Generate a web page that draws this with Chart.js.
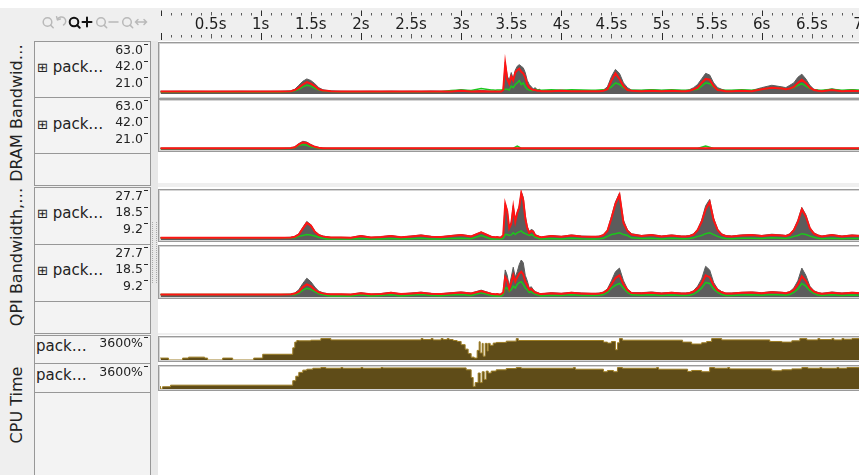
<!DOCTYPE html>
<html><head><meta charset="utf-8">
<script src="https://cdn.jsdelivr.net/npm/chart.js@4.4.1/dist/chart.umd.min.js"></script>
<style>
html,body{margin:0;padding:0;overflow:hidden}
body{width:859px;height:475px;position:relative;background:#efefef;font-family:'DejaVu Sans',sans-serif;color:#222}
.a{position:absolute}
#topStrip{left:0;top:0;width:859px;height:8px;background:#fff}
.lane{left:158px;width:701px;background:#fff}
.strip{left:151px;width:7px;top:41px;height:434px;background:#e8e8e8}
.cell{left:34px;width:117px;box-sizing:border-box;border:1px solid #979797;background:#f3f3f3}
.plot{left:158px;width:720px;box-sizing:border-box;background:#fff;border:1px solid #9a9a9a;box-shadow:inset 0 0 0 1px #d4d4d4}
.group{left:17px;font-size:16px;line-height:18px;white-space:nowrap;transform:translate(-50%,-50%) rotate(-90deg)}
.rowlab{left:37px;font-size:15px;line-height:18px;white-space:nowrap}
.rowlab.cpu{left:36px}
.exp{font-size:13px}
.split{left:152px;top:222px;width:3px;height:61px;border-left:1px dotted #a8a8a8;border-right:1px dotted #a8a8a8}
canvas{position:absolute}
</style></head>
<body>
<div id="topStrip" class="a"></div>
<div class="a lane" style="top:41px;height:142px"></div>
<div class="a lane" style="top:187px;height:146px"></div>
<div class="a lane" style="top:335px;height:140px"></div>
<div class="a strip"></div>
<div class="a split"></div>

<!-- zoom toolbar -->
<svg class="a" style="left:38px;top:14px" width="112" height="18" viewBox="0 0 112 18">
  <g fill="none" stroke="#b9b9b9" stroke-width="1.5" stroke-linecap="round">
    <circle cx="9.5" cy="8" r="4.3"/><path d="M12.6 11.1 L15.2 13.7"/>
    <path d="M25.5 11 A4.3 4.3 0 1 0 19.5 5.5"/><path d="M18.6 2.8 L19.5 5.8 L22.4 5"/>
    <circle cx="63" cy="8" r="4.3"/><path d="M66.1 11.1 L68.7 13.7"/><path d="M71 8 H80"/>
    <circle cx="89" cy="8" r="4.3"/><path d="M92.1 11.1 L94.7 13.7"/>
    <path d="M97.5 8 H108.5 M100 5.5 L97.5 8 L100 10.5 M106 5.5 L108.5 8 L106 10.5"/>
  </g>
  <g fill="none" stroke="#111" stroke-width="2" stroke-linecap="round">
    <circle cx="36" cy="8" r="4.3"/><path d="M39.1 11.1 L41.7 13.7"/>
    <path d="M44.5 8 H53.5 M49 3.5 V12.5"/>
  </g>
</svg>

<div class="a group" style="top:113px">DRAM Bandwid…</div>
<div class="a group" style="top:257px">QPI Bandwidth,…</div>
<div class="a group" style="top:405px">CPU Time</div>

<div class="a cell" style="top:41px;height:57px"></div>
<div class="a cell" style="top:97px;height:57px"></div>
<div class="a cell" style="top:153px;height:33px"></div>
<div class="a cell" style="top:187px;height:58px"></div>
<div class="a cell" style="top:244px;height:58px"></div>
<div class="a cell" style="top:301px;height:33px"></div>
<div class="a cell" style="top:335px;height:29px"></div>
<div class="a cell" style="top:363px;height:30px"></div>
<div class="a cell" style="top:392px;height:90px"></div>

<div class="a rowlab" style="top:58px"><span class="exp">⊞</span> pack…</div>
<div class="a rowlab" style="top:115px"><span class="exp">⊞</span> pack…</div>
<div class="a rowlab" style="top:204px"><span class="exp">⊞</span> pack…</div>
<div class="a rowlab" style="top:261px"><span class="exp">⊞</span> pack…</div>
<div class="a rowlab cpu" style="top:337px">pack…</div>
<div class="a rowlab cpu" style="top:366px">pack…</div>

<div class="a plot" style="top:42px;height:57px"></div>
<div class="a plot" style="top:99px;height:53px"></div>
<div class="a plot" style="top:189px;height:53px"></div>
<div class="a plot" style="top:245px;height:54px"></div>
<div class="a plot" style="top:336px;height:26px"></div>
<div class="a plot" style="top:365px;height:26px"></div>

<canvas id="ruler" width="720" height="42" style="left:158px;top:0px"></canvas>
<canvas id="dram1" width="844" height="70" style="left:34px;top:34px"></canvas>
<canvas id="dram2" width="844" height="70" style="left:34px;top:90px"></canvas>
<canvas id="qpi1" width="844" height="70" style="left:34px;top:180px"></canvas>
<canvas id="qpi2" width="844" height="70" style="left:34px;top:237px"></canvas>
<canvas id="cpu1" width="844" height="43" style="left:34px;top:327px"></canvas>
<canvas id="cpu2" width="844" height="43" style="left:34px;top:356px"></canvas>

<script>
// ---- time axis (seconds) ----
const X_MIN = -0.025, X_MAX = 7.16;

// ---- tick labels ----
const dramTicks = [21, 42, 63];
const qpiTicks = [9.2, 18.5, 27.7];
const cpuTicks = [3600];

// ---- bandwidth sample times (s) ----
const T = [0,0.1,0.2,0.3,0.4,0.5,0.6,0.7,0.8,0.9,1.0,1.1,1.2,1.3,
 1.34,1.38,1.42,1.46,1.5,1.54,1.58,1.62,1.66,1.7,
 1.8,1.9,2.0,2.1,2.2,2.3,2.4,2.5,2.6,2.7,2.8,2.9,3.0,3.1,3.2,3.3,
 3.32,3.34,3.36,3.38,3.4,3.42,3.44,3.46,3.48,3.5,3.52,3.54,3.56,3.58,3.6,3.62,3.64,3.66,3.68,3.7,3.72,3.74,3.76,3.78,3.8,
 3.9,4.0,4.1,4.2,4.3,
 4.34,4.38,4.42,4.46,4.5,4.54,4.58,4.62,4.66,4.7,
 4.8,4.9,5.0,5.1,5.2,
 5.24,5.28,5.32,5.36,5.4,5.44,5.48,5.52,5.56,5.6,5.64,
 5.7,5.8,5.9,6.0,6.1,6.2,
 6.24,6.28,6.32,6.36,6.4,6.44,6.48,6.52,6.56,6.6,
 6.7,6.8,6.9,7.0,7.1,7.2];

// ---- DRAM bandwidth, package 1 (GB/s) ----
const dram1Total = [3.5,3.5,3.6,3.5,3.5,3.4,3.5,3.5,3.6,3.5,3.5,3.5,3.6,4,
 6,11,16,19,17,13,8,5.5,4.5,4,
 3.6,3.5,3.5,3.6,3.5,3.7,3.5,3.6,3.5,3.8,3.6,3.5,5.5,3.8,4.5,3.6,
 3.6,3.5,3.6,3.5,3.8,6,40,23,17,27,19,30,35,37,35,33,27,17,12,9,6.5,8,5,6,4,
 4.5,5,4,4.5,4,
 4,4.5,5,9,22,31,26,14,8,5,
 4.5,5.5,4.5,5,4.5,
 4.5,5.5,8,12,19,26,24,14,8,6,4.5,
 4.5,5,4.5,8,11,9,
 8,11,14,21,25,19,11,6,5,4,
 6.5,4,5.5,4,4,4];
const dram1Red = [3,3,3,3,3,3,3,3,3,3,3,3,3,3.5,
 5,8,12,15,13,10,6,4.5,4,3.5,
 3,3,3,3,3,3,3,3,3,3.2,3,3,4,3.2,3.5,3,
 3,3,3,3,3.2,5,38.5,19,13,22,17,27,30,32,28,26,21,12,8,6,5,5,4,4,3.5,
 3.5,4,3.5,3.5,3.5,
 3.5,3.5,4,6,17,26,19,10,5,4,
 3.5,4,3.5,4,3.5,
 3.5,4,6,8,14,19,18,10,5,4.5,3.5,
 3.5,4,3.5,6,8,7,
 6,7,9,14,18,14,8,5,4,3.5,
 5,3.5,4,3.5,3.5,3.5];
const dram1Green = [2.5,2.5,2.5,2.5,2.5,2.5,2.5,2.5,2.5,2.5,2.5,2.5,2.5,3,
 4,6,9,11,10,7,5,4,3.5,3,
 2.8,2.8,2.8,2.8,2.8,2.8,2.8,2.8,2.8,2.8,2.8,4.5,5,4.5,7,5,
 5,4.8,5,5,5,5.5,6,6,5,10,8,12,14,17,12,14,9,6,5,4.5,4.5,6,5,5,4.8,
 5.5,4.8,5.2,5,4.8,
 4.8,5,5.2,6,9,14,12,8,5.5,4.8,
 4.8,5.5,4.8,5.2,4.8,
 4.8,5,5.5,6,10,14,13,9,6,5,4.8,
 4.8,5.2,4.8,6,8,7,
 6.5,7,8,11,13,10,7,5.5,5,4.8,
 6,4.8,5.5,4.8,4.8,4.8];

// ---- DRAM bandwidth, package 2 (GB/s) ----
const dram2Total = [2.2,2.2,2.2,2.2,2.2,2.2,2.2,2.2,2.2,2.2,2.2,2.2,2.2,2.5,
 4,8,11,10,7,4.5,3,2.5,2.2,2.2,
 2.2,2.2,2.2,2.2,2.2,2.2,2.2,2.2,2.2,2.2,2.2,2.2,2.2,2.2,2.2,2.2,
 2.2,2.2,2.2,2.2,2.2,2.2,2.2,2.2,2.2,2.2,2.2,2.2,2.2,2.2,2.2,2.2,2.2,2.2,2.2,2.2,2.2,2.2,2.2,2.2,2.2,
 2.2,2.2,2.2,2.2,2.2,
 2.2,2.2,2.2,2.2,2.2,2.2,2.2,2.2,2.2,2.2,
 2.2,2.2,2.2,2.2,2.2,
 2.2,2.2,2.2,2.2,2.2,2.2,2.2,2.2,2.2,2.2,2.2,
 2.2,2.2,2.2,2.2,2.2,2.2,
 2.2,2.2,2.2,2.2,2.2,2.2,2.2,2.2,2.2,2.2,
 2.2,2.2,2.2,2.2,2.2,2.2];
const dram2Red = [2.2,2.2,2.2,2.2,2.2,2.2,2.2,2.2,2.2,2.2,2.2,2.2,2.2,2.4,
 3.5,7,9.5,9,6,4,2.8,2.3,2.2,2.2,
 2.2,2.2,2.2,2.2,2.2,2.2,2.2,2.2,2.2,2.2,2.2,2.2,2.2,2.2,2.2,2.2,
 2.2,2.2,2.2,2.2,2.2,2.2,2.2,2.2,2.2,2.2,2.2,2.2,2.2,2.2,2.2,2.2,2.2,2.2,2.2,2.2,2.2,2.2,2.2,2.2,2.2,
 2.2,2.2,2.2,2.2,2.2,
 2.2,2.2,2.2,2.2,2.2,2.2,2.2,2.2,2.2,2.2,
 2.2,2.2,2.2,2.2,2.2,
 2.2,2.2,2.2,2.2,2.2,2.2,2.2,2.2,2.2,2.2,2.2,
 2.2,2.2,2.2,2.2,2.2,2.2,
 2.2,2.2,2.2,2.2,2.2,2.2,2.2,2.2,2.2,2.2,
 2.2,2.2,2.2,2.2,2.2,2.2];
const dram2Green = [2,2,2,2,2,2,2,2,2,2,2,2,2,2,
 3,5.5,7,6,4,3,2,2,2,2,
 2,2,2,2,2,2,2,2,2,2,2,2,2,2,2,2,
 2,2,2,2,2,2,2,2,2,2,2,3.5,5,3.5,2,2,2,2,2,2,2,2,2,2,2,
 2,2,2,2,2,
 2,2,2,2,2,2,2,2,2,2,
 2,2,2,2,2,
 2,2,2,2,3.5,5,3.5,2,2,2,2,
 2,2,2,2,2,2,
 2,2,2,2,2,2,2,2,2,2,
 2,2,2,2,2,2];

// ---- QPI bandwidth, package 1 (GB/s) ----
const qpi1Total = [1.3,1.3,1.3,1.3,1.3,1.3,1.3,1.3,1.3,1.3,1.3,1.3,1.3,1.5,
 2,3.5,7,10.3,8.5,5,3,2.2,1.8,1.5,
 1.5,1.4,2.5,1.5,1.8,2.5,1.6,2.2,2.8,2,1.8,2.5,3,2.2,4.5,2,
 1.8,1.6,1.8,1.5,1.6,3,20.4,16.5,7,10,19,11,15.5,19,26.7,23.7,13.7,7.5,4.7,5.9,5.3,3,2.5,2,1.6,
 2.5,2,2.8,2.2,2,
 2,2.2,3,5.6,13,21,26,11,5.6,3.5,
 2.5,3,2.2,2.8,2.2,
 2.2,2.5,3.5,6,11,19,22.5,12,6,3.5,2.5,
 2.2,2.8,3,2.5,3.2,2.8,
 2.5,3.5,6,11,18,14,7,4,2.8,2.2,
 3,2.2,2.8,2.4,2.2,2];
const qpi1Red = [1.3,1.3,1.3,1.3,1.3,1.3,1.3,1.3,1.3,1.3,1.3,1.3,1.3,1.4,
 1.8,3,6.3,9.5,8,4.5,2.7,2,1.6,1.4,
 1.4,1.3,2.2,1.4,1.6,2.2,1.5,2,2.5,1.8,1.6,2.2,2.7,2,4.3,1.8,
 1.6,1.5,1.6,1.4,1.5,2.7,20,16,6.5,9,18,10,15,18,26,22,12,6.5,4,5,4.5,2.5,2.2,1.8,1.5,
 2.2,1.8,2.5,2,1.8,
 1.8,2,2.7,5,12,20,25,9.5,5,3,
 2.2,2.7,2,2.5,2,
 2,2.2,3,5.5,10,17,21,11,5.5,3,2.2,
 2,2.5,2.7,2.2,2.8,2.5,
 2.2,3,5.5,10,17,13,6.5,3.5,2.5,2,
 2.7,2,2.5,2.2,2,1.8];
const qpi1Green = [1.3,1.3,1.3,1.3,1.3,1.3,1.3,1.3,1.3,1.3,1.3,1.3,1.3,1.3,
 1.2,2,2.5,3,2.8,2.2,1.5,1,0.6,0.5,
 0.5,0.5,0.8,0.5,0.6,0.8,0.5,0.7,0.9,0.6,0.5,0.8,1,0.7,2.5,0.6,
 0.6,0.5,0.6,0.5,0.5,1,3,3,2.5,2.8,4,3,4,4.5,5,4,3.5,3,2.5,3,2.5,1.5,1.2,0.8,0.5,
 0.8,0.6,1,0.7,0.6,
 0.6,0.7,1,2,3,3.5,4,3,2.5,1.2,
 0.8,1,0.6,0.9,0.7,
 0.7,0.8,1.2,2,2.5,3.5,4,3,2,1.2,0.8,
 0.7,1,1,0.8,1.2,1,
 0.8,1.2,2,2.5,3.5,3,2.2,1.5,1,0.7,
 1,0.7,0.9,0.8,0.7,0.6];

// ---- QPI bandwidth, package 2 (GB/s) ----
const qpi2Total = [1.4,1.4,1.4,1.4,1.4,1.4,1.4,1.4,1.4,1.4,1.4,1.4,1.4,1.6,
 2.2,4,7.5,10.4,8.5,5.5,3.2,2.4,1.9,1.6,
 1.6,1.5,2.4,1.6,1.9,2.6,1.7,2.2,2.7,2,1.8,2.4,2.8,2.2,3.8,2,
 1.8,1.6,1.8,1.5,1.7,3,15,12,6,11,16.5,11,14,18,20.5,19,12,9,5,5.7,4,3,2.5,2,1.7,
 2.4,2,2.6,2.2,2,
 2,2.2,2.8,4.5,9,14,16,9,4.5,2.5,
 2.4,2.8,2.2,2.6,2.2,
 2.2,2.5,3.5,6,10,17,15,8,4.5,3,2.2,
 2.2,2.6,2.8,2.4,3,2.6,
 2.4,3,5,9,16,12,6,3.5,2.5,2,
 2.8,2.2,2.6,2.3,2.1,2];
const qpi2Red = [1.4,1.4,1.4,1.4,1.4,1.4,1.4,1.4,1.4,1.4,1.4,1.4,1.4,1.5,
 1.9,3,5.5,7,6,4,2.6,2,1.7,1.5,
 1.5,1.4,2.1,1.5,1.7,2.3,1.6,2,2.4,1.8,1.7,2.1,2.5,2,3.3,1.8,
 1.7,1.5,1.7,1.4,1.6,2.5,11,9,4.5,8,12,8.5,11,13,14,12.5,8.5,6.5,4,4.5,3.3,2.5,2.2,1.8,1.6,
 2.1,1.8,2.3,2,1.8,
 1.8,2,2.4,3.8,7,10.5,12,7,3.8,2.2,
 2.1,2.4,2,2.3,2,
 2,2.2,3,4.8,7.5,12,11,6.5,3.8,2.6,2,
 2,2.3,2.5,2.1,2.6,2.3,
 2.1,2.6,4,7,11.5,9,5,3,2.2,1.8,
 2.4,2,2.3,2.1,1.9,1.8];
const qpi2Green = [1.4,1.4,1.4,1.4,1.4,1.4,1.4,1.4,1.4,1.4,1.4,1.4,1.4,1.4,
 1.2,2.2,3.8,4.8,4.2,3,1.8,1.2,0.8,0.6,
 0.6,0.5,1.2,0.6,0.8,1.2,0.6,1,1.4,0.8,0.7,1.1,1.4,0.9,2.4,0.8,
 0.7,0.6,0.7,0.5,0.6,1.5,5,5,3,4,6,5,7,8,8.5,7,5,4,2.5,3,2.2,1.5,1.2,0.9,0.6,
 1,0.8,1.2,0.9,0.8,
 0.8,1,1.4,2.5,5,6.5,7.5,5,2.5,1.2,
 1,1.3,0.9,1.1,0.9,
 0.9,1,1.6,3,5,8,7.5,4.5,2.5,1.4,0.9,
 0.9,1.1,1.3,1,1.4,1.1,
 1,1.4,2.5,4.5,7.5,6,3.5,2,1.1,0.8,
 1.2,0.8,1.1,0.9,0.8,0.7];

// ---- CPU time per package (%), each value holds from its start time ----
const cpu1Times = [0,0.08,0.22,0.28,0.44,0.47,0.62,0.72,0.93,1.02,
 1.32,1.34,1.36,1.38,1.5,1.6,1.7,
 2.6,2.62,2.7,2.72,2.8,2.82,2.86,2.88,2.92,2.96,
 3.0,3.04,3.07,3.1,3.13,3.16,3.18,3.19,3.21,3.22,
 3.24,3.26,3.27,3.29,3.32,3.35,3.45,3.55,3.57,
 4.42,4.46,4.5,4.54,4.56,4.58,4.61,
 5.21,5.3,5.4,5.45,5.5,5.6,
 6.08,6.2,6.3,6.38,6.45,
 6.56,6.58,6.7,6.72,6.8,6.82,6.9,6.92,7.2];
const cpu1Pct = [350,300,0,300,450,300,0,300,0,300,
 900,1900,2800,3050,3000,3100,3350,
 3150,3350,3200,3350,3150,3350,3200,3350,3200,3050,
 2900,2400,1700,1000,450,300,1500,2850,1100,2600,
 600,2600,1400,2600,2300,2650,2750,2950,3350,
 3050,2800,2650,2900,1600,2700,3350,
 3100,2800,2500,2700,2900,3350,
 3150,2900,2800,3000,3350,
 3150,3350,3200,3350,3150,3350,3250,3350,3350];
const cpu2Times = [0,0.02,0.1,
 1.32,1.35,1.38,1.42,1.46,1.52,1.6,1.65,
 1.8,1.82,2.0,2.02,2.2,2.22,
 3.05,3.1,3.12,3.14,3.17,3.19,3.21,3.23,3.25,3.27,
 3.3,3.35,3.45,3.55,3.6,
 4.12,4.14,
 4.42,4.46,4.52,4.56,4.61,
 4.95,4.97,
 5.26,5.3,5.4,5.48,5.53,
 5.66,5.68,
 6.1,6.2,6.3,6.4,6.46,
 6.58,6.6,
 6.75,6.77,6.85,6.87,7.2];
const cpu2Pct = [450,0,350,
 600,1300,2000,2600,2950,3100,3250,3350,
 3250,3350,3250,3350,3250,3350,
 3300,3000,1800,400,1000,2500,1000,2700,1500,2800,
 2500,2800,3000,3200,3350,
 3250,3350,
 3100,2700,2900,2700,3350,
 3250,3350,
 3100,2750,2900,2700,3350,
 3250,3350,
 3150,2850,3000,3150,3350,
 3250,3350,
 3250,3350,3250,3350,3350];

Chart.defaults.font.family = "'DejaVu Sans', sans-serif";
Chart.defaults.color = '#222';

const pts = (xs, ys) => xs.map((x, i) => ({ x, y: ys[i] }));

// short tick marks to the right of the value labels
const tickMarks = {
  id: 'tickMarks',
  afterDraw(chart) {
    const ys = chart.scales.y, ctx = chart.ctx, x0 = chart.chartArea.left;
    ctx.save();
    ctx.strokeStyle = '#2a2a2a';
    ctx.lineWidth = 1;
    ys.ticks.forEach(t => {
      const py = Math.round(ys.getPixelForValue(t.value)) + 0.5;
      ctx.beginPath();
      ctx.moveTo(x0 - 14, py);
      ctx.lineTo(x0 - 10, py);
      ctx.stroke();
    });
    ctx.restore();
  }
};

function rowOptions(ticks, fmt) {
  return {
    responsive: false,
    animation: false,
    events: [],
    layout: { padding: { top: 10, bottom: 10, left: 0, right: 0 }, autoPadding: false },
    plugins: { legend: { display: false }, tooltip: { enabled: false } },
    elements: { point: { radius: 0 }, line: { tension: 0 } },
    scales: {
      x: { type: 'linear', min: X_MIN, max: X_MAX, display: false },
      y: {
        min: 0, max: ticks[ticks.length - 1], position: 'left',
        // fixed label column; labels may overhang the plot's top and bottom
        afterFit(s) { s.width = 124; s.paddingTop = 0; s.paddingBottom = 0; },
        afterBuildTicks(s) { s.ticks = ticks.map(v => ({ value: v })); },
        grid: { display: false, drawTicks: false },
        border: { display: false },
        ticks: { padding: 15, labelOffset: 6.5, autoSkip: false, color: '#222',
                 font: { size: 12.5 }, callback: v => fmt(v) }
      }
    }
  };
}

function bandwidthRow(id, total, red, green, ticks) {
  new Chart(document.getElementById(id), {
    type: 'line',
    data: {
      datasets: [
        { data: pts(T, red), borderColor: '#ff1414', borderWidth: 2, fill: false },
        { data: pts(T, green), borderColor: '#1cc61c', borderWidth: 1.5, fill: false },
        { data: pts(T, total), borderColor: '#5c5c5c', backgroundColor: '#5c5c5c', borderWidth: 1, fill: 'origin' }
      ]
    },
    options: rowOptions(ticks, v => v.toFixed(1)),
    plugins: [tickMarks]
  });
}

function cpuRow(id, times, pct) {
  new Chart(document.getElementById(id), {
    type: 'line',
    data: {
      datasets: [
        { data: pts(times, pct), stepped: 'after', borderColor: '#9c7d24', borderWidth: 1,
          backgroundColor: '#5f4c18', fill: 'origin' }
      ]
    },
    options: rowOptions(cpuTicks, v => v + '%'),
    plugins: [tickMarks]
  });
}

bandwidthRow('dram1', dram1Total, dram1Red, dram1Green, dramTicks);
bandwidthRow('dram2', dram2Total, dram2Red, dram2Green, dramTicks);
bandwidthRow('qpi1', qpi1Total, qpi1Red, qpi1Green, qpiTicks);
bandwidthRow('qpi2', qpi2Total, qpi2Red, qpi2Green, qpiTicks);
cpuRow('cpu1', cpu1Times, cpu1Pct);
cpuRow('cpu2', cpu2Times, cpu2Pct);

// time ruler: labels every 0.5 s, divisions every 0.1 s above and below
const rulerMarks = {
  id: 'rulerMarks',
  afterDraw(chart) {
    const s = chart.scales.x, ctx = chart.ctx;
    ctx.save();
    ctx.lineWidth = 1;
    for (let k = 0; k <= 72; k++) {
      const px = Math.round(s.getPixelForValue(k / 10)) + 0.5;
      const major = k % 10 === 0, half = k % 5 === 0;
      ctx.strokeStyle = major ? '#2a2a2a' : '#5a5a5a';
      ctx.beginPath();
      ctx.moveTo(px, major ? 10.5 : half ? 12 : 13);
      ctx.lineTo(px, major ? 16 : 15.5);
      ctx.moveTo(px, major ? 33 : half ? 34 : 35);
      ctx.lineTo(px, major ? 40 : half ? 38.5 : 37.5);
      ctx.stroke();
    }
    ctx.restore();
  }
};

new Chart(document.getElementById('ruler'), {
  type: 'line',
  data: { datasets: [] },
  options: {
    responsive: false,
    animation: false,
    events: [],
    layout: { padding: { top: 8, bottom: 10, left: 0, right: 0 }, autoPadding: false },
    plugins: { legend: { display: false }, tooltip: { enabled: false } },
    scales: {
      x: {
        type: 'linear', min: X_MIN, max: X_MAX, position: 'bottom',
        afterFit(s) { s.height = 18; },
        grid: { display: false, drawTicks: false },
        border: { display: false },
        ticks: { stepSize: 0.5, includeBounds: false, autoSkip: false, maxRotation: 0, padding: 2,
                 color: '#1e1e1e', font: { size: 15 }, callback: v => (v === 0 ? '' : v + 's') }
      },
      y: { display: false }
    }
  },
  plugins: [rulerMarks]
});
</script>
</body></html>
